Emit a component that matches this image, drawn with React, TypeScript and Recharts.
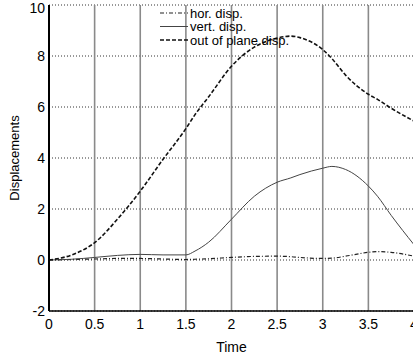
import React from 'react';
import {
  LineChart,
  Line,
  XAxis,
  YAxis,
  CartesianGrid,
  Legend,
} from 'recharts';

const times = [0, 0.25, 0.5, 0.75, 1, 1.25, 1.5, 1.6, 1.75, 2, 2.25, 2.5, 2.65, 2.75, 3, 3.1, 3.25, 3.5, 3.6, 3.75, 4];
const horDisp = [0, 0.02, 0.04, 0.06, 0.06, 0.04, 0.02, 0.03, 0.05, 0.1, 0.14, 0.15, 0.13, 0.1, 0.06, 0.07, 0.15, 0.3, 0.33, 0.3, 0.15];
const vertDisp = [0, 0.03, 0.1, 0.18, 0.22, 0.2, 0.2, 0.35, 0.7, 1.6, 2.5, 3.05, 3.22, 3.35, 3.6, 3.67, 3.55, 2.9, 2.5, 1.75, 0.6];
const outDisp = [0, 0.2, 0.68, 1.6, 2.7, 3.95, 5.15, 5.7, 6.4, 7.6, 8.35, 8.7, 8.78, 8.72, 8.25, 7.9, 7.25, 6.5, 6.3, 5.95, 5.45];

const xTicks = [0, 0.5, 1, 1.5, 2, 2.5, 3, 3.5, 4];
const yTicks = [-2, 0, 2, 4, 6, 8, 10];

const series = [
  { key: 'hor', name: 'hor. disp.', values: horDisp, dash: '4 2 1 2', color: '#222', width: 1.2 },
  { key: 'vert', name: 'vert. disp.', values: vertDisp, dash: undefined, color: '#444', width: 1 },
  { key: 'out', name: 'out of plane disp.', values: outDisp, dash: '4 2', color: '#111', width: 1.6 },
];

const data = times.map((t, i) => {
  const row: Record<string, number> = { t };
  series.forEach((s) => {
    row[s.key] = s.values[i];
  });
  return row;
});

const font = '"Liberation Sans", Arial, sans-serif';

const LegendBox = () => (
  <svg width={180} height={44} style={{ overflow: 'visible', display: 'block' }}>
    {series.map((s, i) => (
      <g key={s.key}>
        <line
          x1={0}
          x2={28}
          y1={6 + i * 13.5}
          y2={6 + i * 13.5}
          stroke={s.color}
          strokeWidth={s.width}
          strokeDasharray={s.dash}
        />
        <text x={30} y={6 + i * 13.5} dy="0.35em" fontSize={13} fill="#000" fontFamily={font}>
          {s.name}
        </text>
      </g>
    ))}
  </svg>
);

// vertical grid: solid gray, horizontal grid: dotted dark
const vLine = (p: any) => (
  <line key={p.key} x1={p.x1} y1={p.y1} x2={p.x2} y2={p.y2} stroke="#8a8a8a" strokeWidth={1.6} />
);
const hLine = (p: any) => (
  <line key={p.key} x1={p.x1} y1={p.y1} x2={p.x2} y2={p.y2} stroke="#333" strokeWidth={1} strokeDasharray="1 2" />
);

export default function App() {
  return (
    <div style={{ position: 'absolute', left: 0, top: 0, width: 413, height: 360, overflow: 'hidden', background: '#fff' }}>
      <LineChart
        width={430}
        height={360}
        data={data}
        margin={{ top: 5, right: 16, bottom: 0, left: 0 }}
        style={{ fontFamily: font }}
      >
        <CartesianGrid vertical={vLine} horizontal={hLine} />
        <XAxis
          dataKey="t"
          type="number"
          domain={[0, 4]}
          ticks={xTicks}
          tickSize={0}
          tickMargin={8}
          height={49}
          axisLine={{ stroke: '#000', strokeWidth: 1.5 }}
          tick={{ fontSize: 14, fill: '#000' }}
          label={{ value: 'Time', position: 'insideBottom', offset: 8, fontSize: 14, fill: '#000' }}
        />
        <YAxis
          type="number"
          domain={[-2, 10]}
          ticks={yTicks}
          tickSize={0}
          tickMargin={4}
          width={49}
          axisLine={{ stroke: '#000', strokeWidth: 2 }}
          tick={{ fontSize: 14, fill: '#000' }}
          label={{ value: 'Displacements', angle: -90, position: 'insideLeft', offset: 14, fontSize: 13, fill: '#000', style: { textAnchor: 'middle' } }}
        />
        <Legend
          verticalAlign="middle"
          align="center"
          content={<LegendBox />}
          wrapperStyle={{ top: 7, left: 160, width: 180, height: 44 }}
        />
        {series.map((s) => (
          <Line
            key={s.key}
            type="monotone"
            dataKey={s.key}
            name={s.name}
            stroke={s.color}
            strokeWidth={s.width}
            strokeDasharray={s.dash}
            dot={false}
            activeDot={false}
            isAnimationActive={false}
          />
        ))}
      </LineChart>
    </div>
  );
}
